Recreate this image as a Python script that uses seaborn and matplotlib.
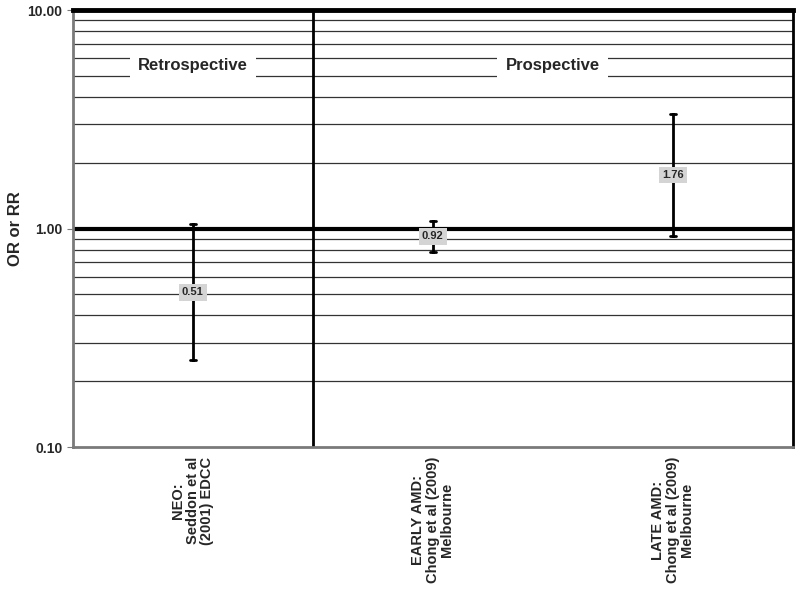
import matplotlib
matplotlib.use("Agg")
import matplotlib.pyplot as plt
import matplotlib.ticker as mticker
import pandas as pd
import seaborn as sns

studies = ["NEO:\nSeddon et al\n(2001) EDCC",
           "EARLY AMD:\nChong et al (2009)\nMelbourne",
           "LATE AMD:\nChong et al (2009)\nMelbourne"]
estimates = [0.51, 0.92, 1.76]
lower = [0.25, 0.78, 0.92]
upper = [1.05, 1.08, 3.35]
yticks = [0.1, 1.0, 10.0]
ytick_labels = ["0.10", "1.00", "10.00"]

# long table: lower / estimate / upper per study -> median = estimate, range = CI
rows = []
for s, lo, est, hi in zip(studies, lower, estimates, upper):
    for v in (lo, est, hi):
        rows.append({"study": s, "value": v})
df = pd.DataFrame(rows)

sns.set_style("white")
plt.rcParams["font.family"] = ["Liberation Sans", "DejaVu Sans"]
plt.rcParams["font.weight"] = "bold"

fig = plt.figure(figsize=(8, 5.89), dpi=100)
ax = fig.add_axes([0.091, 0.241, 0.900, 0.742])
ax.set_yscale("log")

sns.pointplot(data=df, x="study", y="value", order=studies,
              estimator="median", errorbar=lambda v: (v.min(), v.max()),
              color="black", capsize=0.025, linestyle="none", marker="",
              err_kws={"linewidth": 2}, ax=ax, zorder=4)

ax.set_xlim(-0.5, 2.5)
ax.set_ylim(0.1, 10)

# grid lines
ax.yaxis.set_major_locator(mticker.FixedLocator(yticks))
ax.yaxis.set_major_formatter(mticker.FixedFormatter(ytick_labels))
ax.yaxis.set_minor_locator(mticker.LogLocator(base=10, subs=range(2, 10)))
ax.yaxis.set_minor_formatter(mticker.NullFormatter())
ax.grid(which="minor", axis="y", color="#333333", linewidth=0.9, zorder=1)
ax.grid(which="major", axis="y", visible=False)
ax.axhline(1.0, color="black", linewidth=3, zorder=2)
ax.axvline(0.5, color="black", linewidth=2, zorder=2)
ax.set_axisbelow(True)

for sp in ["left", "bottom"]:
    ax.spines[sp].set_color("#7a7a7a")
    ax.spines[sp].set_linewidth(2)
ax.spines["top"].set_color("black")
ax.spines["top"].set_linewidth(3.5)
ax.spines["right"].set_color("black")
ax.spines["right"].set_linewidth(2)

ax.tick_params(axis="y", which="major", length=4, color="#7a7a7a",
               labelsize=10, left=True, direction="out")
ax.tick_params(axis="y", which="minor", length=0)
ax.set_xticks([0, 1, 2])
ax.set_xticklabels(studies, rotation=90, fontsize=10.5, fontweight="bold",
                   linespacing=1.05)
for lab in ax.get_xticklabels():
    lab.set_multialignment("center")
ax.tick_params(axis="x", length=0, pad=7)
for lab in ax.get_yticklabels():
    lab.set_fontweight("bold")

ax.set_xlabel("")
ax.set_ylabel("OR or RR", fontsize=12, fontweight="bold", labelpad=3)

# value labels
for i, est in enumerate(estimates):
    ax.text(i, est, f"{est:.2f}", ha="center", va="center", fontsize=8,
            fontweight="bold", zorder=5,
            bbox=dict(boxstyle="square,pad=0.3", facecolor="#d4d4d4",
                      edgecolor="none"))

# section headers
ax.text(0, 5.6, "Retrospective", ha="center", va="center", fontsize=12,
        fontweight="bold", zorder=5,
        bbox=dict(boxstyle="square,pad=0.5", facecolor="white", edgecolor="none"))
ax.text(1.5, 5.6, "Prospective", ha="center", va="center", fontsize=12,
        fontweight="bold", zorder=5,
        bbox=dict(boxstyle="square,pad=0.5", facecolor="white", edgecolor="none"))

fig.savefig("out.png", dpi=100)
plt.close(fig)
